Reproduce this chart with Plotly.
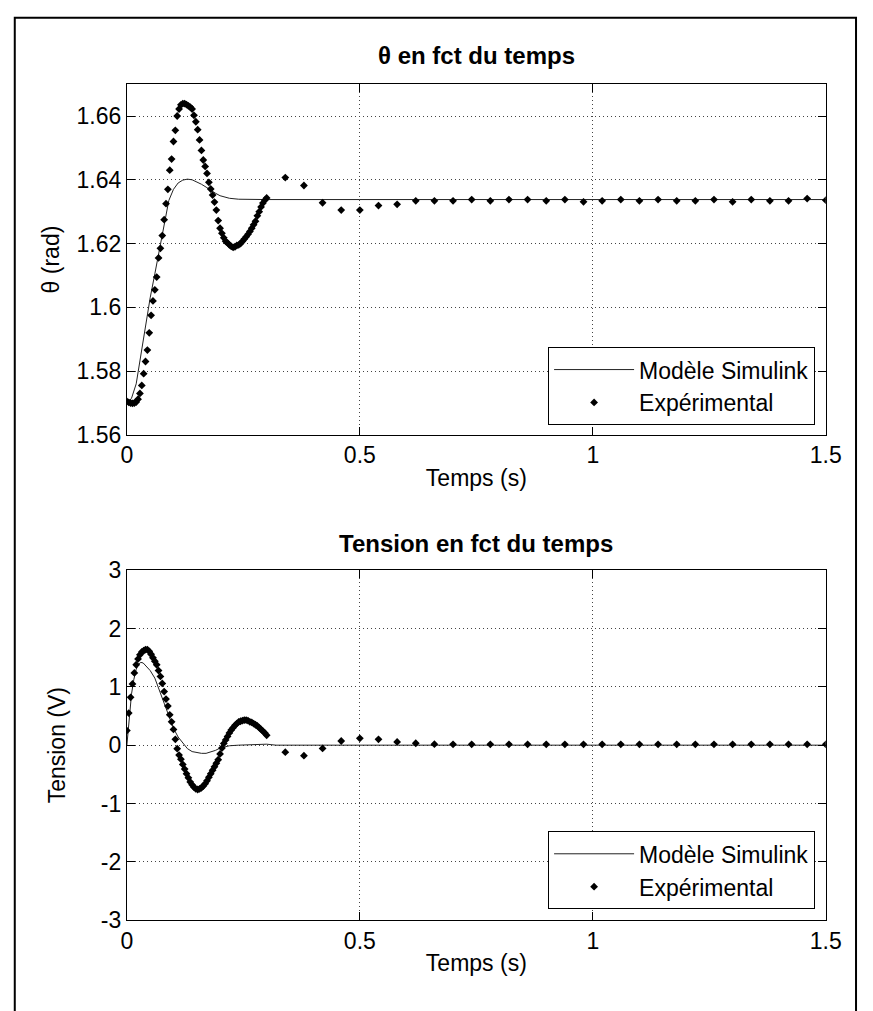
import plotly.graph_objects as go

# ---------------- data ----------------
# Experimental samples: dense part every 4 ms from 0 to 0.30 s, then every 40 ms
t_dense = [round(0.004 * i, 3) for i in range(76)]
t_sparse = [round(0.34 + 0.04 * k, 2) for k in range(30)]

theta_dense = [
    1.5705, 1.5702, 1.5700, 1.5699, 1.5700, 1.5703, 1.5712, 1.5730, 1.5755, 1.5792,
    1.5830, 1.5866, 1.5920, 1.5975, 1.6020, 1.6055, 1.6095, 1.6155, 1.6185, 1.6225,
    1.6275, 1.6325, 1.6370, 1.6430, 1.6465, 1.6520, 1.6555, 1.6600, 1.6622, 1.6635,
    1.6639, 1.6639, 1.6636, 1.6632, 1.6628, 1.6622, 1.6602, 1.6582, 1.6557, 1.6525,
    1.6492, 1.6462, 1.6442, 1.6420, 1.6392, 1.6371, 1.6352, 1.6330, 1.6305, 1.6272,
    1.6248, 1.6232, 1.6218, 1.6207, 1.6202, 1.6196, 1.6191, 1.6188, 1.6190, 1.6194,
    1.6196, 1.6200, 1.6207, 1.6214, 1.6221, 1.6229, 1.6238, 1.6248, 1.6259, 1.6270,
    1.6287, 1.6300, 1.6315, 1.6327, 1.6336, 1.6343,
]
theta_sparse = [
    1.6407, 1.6382, 1.6328, 1.6305, 1.6305, 1.6319, 1.6323, 1.6334, 1.6334, 1.6334,
    1.6338, 1.6334, 1.6338, 1.6338, 1.6334, 1.6338, 1.6331, 1.6334, 1.6338, 1.6334,
    1.6338, 1.6334, 1.6334, 1.6338, 1.6331, 1.6338, 1.6334, 1.6334, 1.6341, 1.6336,
]

volt_dense = [
    0.25, 0.55, 0.82, 1.05, 1.24, 1.38, 1.48, 1.55, 1.60, 1.62,
    1.64, 1.64, 1.61, 1.56, 1.50, 1.44, 1.38, 1.28, 1.18, 1.06,
    0.92, 0.79, 0.67, 0.52, 0.40, 0.27, 0.10, -0.06, -0.17, -0.24,
    -0.33, -0.41, -0.49, -0.56, -0.63, -0.68, -0.72, -0.75, -0.76, -0.75,
    -0.73, -0.70, -0.66, -0.61, -0.55, -0.49, -0.43, -0.37, -0.31, -0.25,
    -0.15, -0.05, 0.03, 0.09, 0.15, 0.21, 0.26, 0.30, 0.34, 0.37,
    0.40, 0.41, 0.42, 0.43, 0.43, 0.42, 0.40, 0.39, 0.37, 0.35,
    0.33, 0.30, 0.27, 0.24, 0.21, 0.17,
]
volt_sparse = [
    -0.12, -0.18, -0.055, 0.072, 0.117, 0.10, 0.055, 0.033, 0.017, 0.015,
    0.015, 0.015, 0.015, 0.015, 0.015, 0.015, 0.015, 0.015, 0.015, 0.015,
    0.015, 0.015, 0.015, 0.015, 0.015, 0.015, 0.015, 0.015, 0.015, 0.015,
]

# Simulink model responses
t_model_theta = [0, 0.01, 0.02, 0.03, 0.04, 0.05, 0.06, 0.07, 0.08, 0.09, 0.10,
                 0.11, 0.12, 0.13, 0.14, 0.15, 0.16, 0.17, 0.18, 0.19, 0.20,
                 0.22, 0.24, 0.26, 0.30, 0.50, 1.00, 1.50]
theta_model = [1.5700, 1.5715, 1.5760, 1.5850, 1.5950, 1.6030, 1.6105, 1.6180,
               1.6265, 1.6335, 1.6370, 1.6390, 1.6399, 1.6402, 1.6400, 1.6394,
               1.6386, 1.6377, 1.6367, 1.6358, 1.6350, 1.6342, 1.6339, 1.6338,
               1.6338, 1.6338, 1.6338, 1.6338]

t_model_volt = [0, 0.005, 0.01, 0.015, 0.02, 0.025, 0.03, 0.035, 0.04, 0.05,
                0.06, 0.07, 0.08, 0.09, 0.10, 0.11, 0.12, 0.13, 0.14, 0.15,
                0.16, 0.17, 0.18, 0.19, 0.20, 0.22, 0.24, 0.28, 0.30, 0.32,
                0.50, 1.00, 1.50]
volt_model = [0.0, 0.50, 0.88, 1.13, 1.30, 1.39, 1.42, 1.41, 1.37, 1.28,
              1.15, 0.94, 0.73, 0.49, 0.29, 0.14, 0.03, -0.06, -0.11, -0.13,
              -0.14, -0.14, -0.12, -0.09, -0.05, -0.01, 0.0, 0.01, 0.017, 0.0,
              0.0, 0.0, 0.0]

x_ticks = [0, 0.5, 1, 1.5]
x_ticktext = ["0", "0.5", "1", "1.5"]
theta_ticks = [1.56, 1.58, 1.60, 1.62, 1.64, 1.66]
theta_ticktext = ["1.56", "1.58", "1.6", "1.62", "1.64", "1.66"]
volt_ticks = [-3, -2, -1, 0, 1, 2, 3]
volt_ticktext = ["-3", "-2", "-1", "0", "1", "2", "3"]

# ---------------- layout geometry (pixels) ----------------
W, H = 873, 1011
AX_L, AX_R = 124, 841
TOP_T, TOP_B = 73, 433
BOT_T, BOT_B = 572, 931
FONT = "Liberation Sans, Arial, sans-serif"
FS = 23


def px(x):
    return x / W


def py(y):
    return 1 - y / H


fig = go.Figure()

t_exp = t_dense + t_sparse

fig.add_trace(go.Scatter(x=t_model_theta, y=theta_model, mode="lines",
                         line=dict(color="#222222", width=1),
                         name="Modèle Simulink", xaxis="x", yaxis="y",
                         legend="legend"))
fig.add_trace(go.Scatter(x=t_exp, y=theta_dense + theta_sparse, mode="markers",
                         marker=dict(symbol="diamond", size=6, color="black"),
                         name="Expérimental", xaxis="x", yaxis="y",
                         legend="legend"))
fig.add_trace(go.Scatter(x=t_model_volt, y=volt_model, mode="lines",
                         line=dict(color="#222222", width=1),
                         name="Modèle Simulink", xaxis="x2", yaxis="y2",
                         legend="legend2"))
fig.add_trace(go.Scatter(x=t_exp, y=volt_dense + volt_sparse, mode="markers",
                         marker=dict(symbol="diamond", size=6, color="black"),
                         name="Expérimental", xaxis="x2", yaxis="y2",
                         legend="legend2"))

axis_common = dict(
    showline=True, linecolor="black", linewidth=1, mirror="allticks",
    ticks="inside", ticklen=8, tickcolor="black", tickwidth=1,
    showgrid=True, gridcolor="#444444", gridwidth=1, griddash="1px,3px",
    zeroline=False, tickfont=dict(family=FONT, size=FS, color="black"),
)

fig.update_layout(
    width=W, height=H,
    margin=dict(l=0, r=0, t=0, b=0),
    paper_bgcolor="white", plot_bgcolor="white",
    font=dict(family=FONT, size=FS, color="black"),
    xaxis=dict(domain=[px(AX_L), px(AX_R)], anchor="y", range=[0, 1.5],
               tickvals=x_ticks, ticktext=x_ticktext,
               title=dict(text="Temps (s)", standoff=2, font=dict(size=FS)),
               **axis_common),
    yaxis=dict(domain=[py(TOP_B), py(TOP_T)], anchor="x", range=[1.56, 1.67],
               tickvals=theta_ticks, ticktext=theta_ticktext,
               title=dict(text="θ (rad)", standoff=10, font=dict(size=FS)),
               **axis_common),
    xaxis2=dict(domain=[px(AX_L), px(AX_R)], anchor="y2", range=[0, 1.5],
                tickvals=x_ticks, ticktext=x_ticktext,
                title=dict(text="Temps (s)", standoff=2, font=dict(size=FS)),
                **axis_common),
    yaxis2=dict(domain=[py(BOT_B), py(BOT_T)], anchor="x2", range=[-3, 3],
                tickvals=volt_ticks, ticktext=volt_ticktext,
                title=dict(text="Tension (V)", standoff=28, font=dict(size=FS)),
                **axis_common),
    legend=dict(x=px(830), y=py(423), xanchor="right", yanchor="bottom",
                bgcolor="white", bordercolor="black", borderwidth=1,
                itemwidth=80, font=dict(family=FONT, size=FS),
                tracegroupgap=0),
    legend2=dict(x=px(830), y=py(920), xanchor="right", yanchor="bottom",
                 bgcolor="white", bordercolor="black", borderwidth=1,
                 itemwidth=80, font=dict(family=FONT, size=FS),
                 tracegroupgap=0),
    showlegend=True,
)

# Subplot titles
fig.add_annotation(x=(px(AX_L) + px(AX_R)) / 2, y=py(44), xref="paper", yref="paper",
                   text="<b>θ en fct du temps</b>", showarrow=False,
                   font=dict(family=FONT, size=24, color="black"),
                   xanchor="center", yanchor="middle")
fig.add_annotation(x=(px(AX_L) + px(AX_R)) / 2, y=py(544), xref="paper", yref="paper",
                   text="<b>Tension en fct du temps</b>", showarrow=False,
                   font=dict(family=FONT, size=24, color="black"),
                   xanchor="center", yanchor="middle")

# Outer frame of the figure
fig.add_shape(type="rect", xref="paper", yref="paper",
              x0=px(9), x1=px(872), y0=-0.05, y1=py(5),
              line=dict(color="black", width=2), fillcolor="rgba(0,0,0,0)",
              layer="above")

fig.write_html("out.html")
